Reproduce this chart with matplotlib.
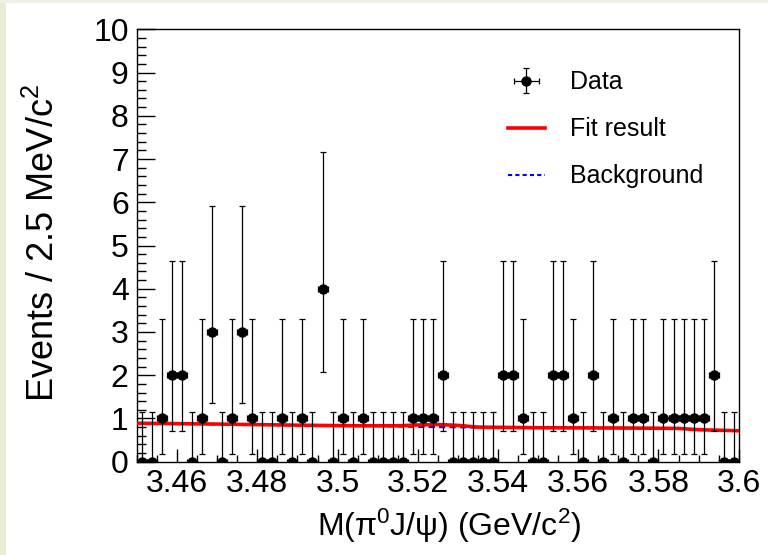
import matplotlib
matplotlib.use("Agg")
import matplotlib.pyplot as plt
import numpy as np
from matplotlib.lines import Line2D
from matplotlib.patches import Rectangle

plt.rcParams['font.family'] = ['Liberation Sans', 'DejaVu Sans']
plt.rcParams['mathtext.fontset'] = 'custom'
plt.rcParams['mathtext.rm'] = 'Liberation Sans'
plt.rcParams['mathtext.it'] = 'Liberation Sans:italic'

# === Data ===
x_lo, x_hi = 3.45, 3.60
n_bins = 60
counts = [0, 0, 1, 2, 2, 0, 1, 3, 0, 1,
          3, 1, 0, 0, 1, 0, 1, 0, 4, 0,
          1, 0, 1, 0, 0, 0, 0, 1, 1, 1,
          2, 0, 0, 0, 0, 0, 2, 2, 1, 0,
          0, 2, 2, 1, 0, 2, 0, 1, 0, 1,
          1, 0, 1, 1, 1, 1, 1, 2, 0, 0]

# Poisson 68% interval bounds, indexed by count
poisson_lo = [0.0, 0.173, 0.708, 1.367, 2.086]
poisson_hi = [1.148, 3.300, 4.638, 5.918, 7.163]

# fit curve and background
fit_x = [3.45, 3.47, 3.49, 3.505, 3.515, 3.52, 3.525, 3.53, 3.535, 3.55, 3.57, 3.585, 3.59, 3.60]
fit_y = [0.89, 0.87, 0.845, 0.83, 0.83, 0.85, 0.86, 0.84, 0.80, 0.785, 0.78, 0.77, 0.74, 0.715]
bkg_y = [0.89, 0.87, 0.845, 0.83, 0.815, 0.805, 0.80, 0.795, 0.79, 0.785, 0.775, 0.765, 0.74, 0.715]

edges = np.linspace(x_lo, x_hi, n_bins + 1)
centers = 0.5 * (edges[:-1] + edges[1:])
half_w = 0.5 * (edges[1] - edges[0])
cnt = np.array(counts)
y_low = cnt - np.array([poisson_lo[c] for c in counts])
y_up = np.array([poisson_hi[c] for c in counts]) - cnt

# === Plotting ===
fig = plt.figure(figsize=(7.68, 5.55), dpi=100, facecolor='white')
fig.patches.append(Rectangle((0, 0), 6 / 768, 1, transform=fig.transFigure,
                             facecolor='#e6ecd6', edgecolor='none', zorder=-10))
fig.patches.append(Rectangle((0, 1 - 3 / 555), 1, 3 / 555, transform=fig.transFigure,
                             facecolor='#eef2e4', edgecolor='none', zorder=-10))

ax = fig.add_axes([137 / 768, 93.3 / 555, 601.7 / 768, 432.4 / 555])

ax.plot(fit_x, bkg_y, color='blue', linestyle=(0, (3, 2)), linewidth=1.5, zorder=2)
ax.plot(fit_x, fit_y, color='red', linewidth=2.6, zorder=3)
data = ax.errorbar(centers, cnt, yerr=[y_low, y_up], xerr=half_w, fmt='o', color='black',
                   markersize=6.5, elinewidth=0.9, capsize=2.2, capthick=0.9, zorder=4)

ax.set_xlim(x_lo, x_hi)
ax.set_ylim(0, 10)
ax.set_xticks(np.arange(3.46, 3.601, 0.02))
ax.set_xticklabels(['3.46', '3.48', '3.5', '3.52', '3.54', '3.56', '3.58', '3.6'])
ax.set_xticks(np.arange(3.45, 3.601, 0.005), minor=True)
ax.set_yticks(np.arange(0, 11, 1))
ax.set_yticks(np.arange(0, 10.01, 0.2), minor=True)
ax.tick_params(axis='both', which='both', direction='in', top=False, right=False,
               labelsize=23, width=1)
ax.tick_params(axis='y', which='major', length=13, pad=6)
ax.tick_params(axis='y', which='minor', length=6.5)
ax.tick_params(axis='x', which='major', length=9.5, pad=5)
ax.tick_params(axis='x', which='minor', length=4.7)
for s in ax.spines.values():
    s.set_linewidth(1)

ax.set_xlabel(r'M(π$^{0}$J/ψ) (GeV/c$^{2}$)', fontsize=23)
ax.xaxis.set_label_coords(0.518, -0.105)
ax.set_ylabel(r'Events / 2.5 MeV/c$^{2}$', fontsize=26)
ax.yaxis.set_label_coords(-0.125, 0.505)

handles = [data,
           Line2D([], [], color='red', linewidth=2.6),
           Line2D([], [], color='blue', linestyle=(0, (2, 1.5)), linewidth=1.5)]
ax.legend(handles, ['Data', 'Fit result', 'Background'], loc='upper left',
          bbox_to_anchor=(0.616, 0.905), frameon=False, fontsize=18,
          borderpad=0, borderaxespad=0,
          handlelength=1.5, handletextpad=1.0, labelspacing=0.92)

fig.savefig('out.png', dpi=100, facecolor=fig.get_facecolor())
